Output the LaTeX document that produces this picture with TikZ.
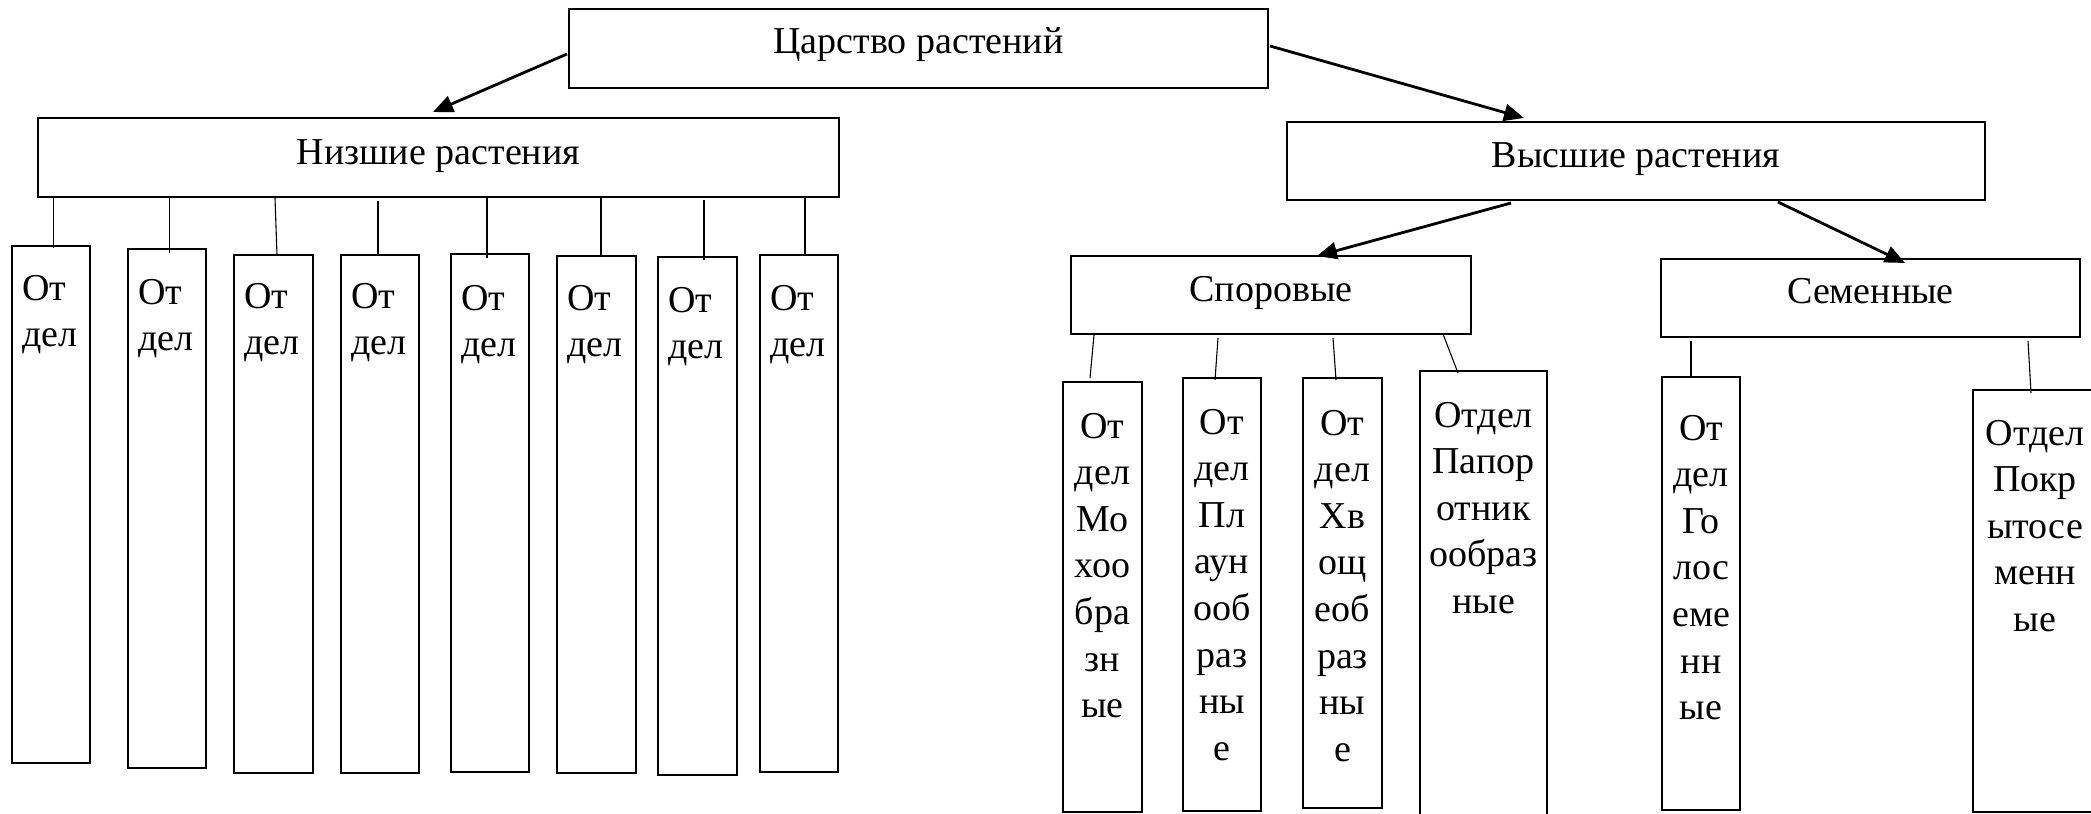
\documentclass[tikz,border=0pt]{standalone}
\usepackage{fontspec}
\setmainfont{Liberation Serif}
\usetikzlibrary{arrows.meta,calc,fit}
\newcommand{\mystackc}[1]{\begin{tabular}[t]{@{}c@{}}#1\end{tabular}}
\newcommand{\mystackl}[1]{\begin{tabular}[t]{@{}l@{}}#1\end{tabular}}
\begin{document}
\begin{tikzpicture}[x=0.5pt,y=-0.5pt,
  box/.style={draw=black,line width=0.7pt,inner sep=0pt,outer sep=0pt},
  lbl/.style={inner sep=0pt,outer sep=0pt,font=\fontsize{19}{23.3}\selectfont},
  arr/.style={line width=1.4pt,-{Triangle[length=10pt,width=8.5pt]}},
  conn/.style={line width=0.55pt}]
\fill[white] (0,0) rectangle (2091,813);
\useasboundingbox (0,0) rectangle (2091,813);

% header boxes
\node[box,fit={(569,9)(1268,88)}] (king) {};
\node[lbl,anchor=base] (tking) at (918.5,54) {Царство растений};
\node[box,fit={(38,118)(839,197)}] (low) {};
\node[lbl,anchor=base] (tlow) at (438.5,164) {Низшие растения};
\node[box,fit={(1287,122)(1985,200)}] (high) {};
\node[lbl,anchor=base] (thigh) at (1636,167) {Высшие растения};
\node[box,fit={(1071,256)(1471,334)}] (spor) {};
\node[lbl,anchor=base] (tspor) at (1271,301) {Споровые};
\node[box,fit={(1661,259)(2080,337)}] (sem) {};
\node[lbl,anchor=base] (tsem) at (1870.5,303) {Семенные};

% arrows
\draw[arr] ($(king.north west)+(-2,45)$) -- ($(low.north west)+(395,-6)$);
\draw[arr] ($(king.north east)+(2,37)$) -- ($(high.north west)+(237,-4)$);
\draw[arr] ($(high.south west)+(224,3)$) -- ($(spor.north west)+(246,0)$);
\draw[arr] ($(high.south west)+(491,2)$) -- ($(sem.north west)+(244,4)$);

% lower plants: eight boxes
\foreach \i/\xa/\ya/\xb/\yb/\tb/\pa/\pb/\qa/\qb in {
  1/12/246/90/763/300/15.6/1/41.6/2,
  2/128/249/206/768/304/131.5/1/41.5/4,
  3/234/255/313/773/308/237/1/43/0,
  4/341/255/419/773/308/340/4/37/0,
  5/451/254/529/772/310/449/0/36/4,
  6/557/256/636/773/310/563/1/44/0,
  7/658/257/737/775/312/666/3/46/3,
  8/760/255/838/772/310/767/1/45/0}{
  \node[box,fit={(\xa,\ya)(\xb,\yb)}] (b\i) {};
  \node[lbl,anchor=base west] (tb\i) at (\xa+10,\tb) {\mystackl{От\\дел}};
  \draw[conn] ($(low.south west)+(\pa,\pb)$) -- ($(b\i.north west)+(\qa,\qb)$);
}

% higher plants: spore plants
\node[box,fit={(1063,382)(1142,812)}] (bA) {};
\node[lbl,anchor=base] (tA) at (1102.5,438) {\mystackc{От\\дел\\Мо\\хоо\\бра\\зн\\ые}};
\node[box,fit={(1183,378)(1261,811)}] (bB) {};
\node[lbl,anchor=base] (tB) at (1222,434) {\mystackc{От\\дел\\Пл\\аун\\ооб\\раз\\ны\\е}};
\node[box,fit={(1303,378)(1382,808)}] (bC) {};
\node[lbl,anchor=base] (tC) at (1342.5,435) {\mystackc{От\\дел\\Хв\\ощ\\еоб\\раз\\ны\\е}};
\node[box,fit={(1420,371)(1547,830)}] (bD) {};
\node[lbl,anchor=base] (tD) at (1483.5,427) {\mystackc{Отдел\\Папор\\отник\\ообраз\\ные}};

\draw[conn] ($(spor.south west)+(23,1)$) -- ($(bA.north west)+(27,-4)$);
\draw[conn] ($(spor.south west)+(147,4)$) -- ($(bB.north west)+(32,2)$);
\draw[conn] ($(spor.south west)+(262,4)$) -- ($(bC.north west)+(33,2)$);
\draw[conn] ($(spor.south west)+(372,0)$) -- ($(bD.north west)+(38,2)$);

% seed plants
\node[box,fit={(1662,377)(1740,810)}] (bE) {};
\node[lbl,anchor=base] (tE) at (1701,440) {\mystackc{От\\дел\\Го\\лос\\еме\\нн\\ые}};
\node[box,fit={(1973,390)(2097,812)}] (bF) {};
\node[lbl,anchor=base] (tF) at (2035,445) {\mystackc{Отдел\\Покр\\ытосе\\менн\\ые}};

\draw[conn] ($(sem.south west)+(30,4)$) -- ($(bE.north west)+(29,1)$);
\draw[conn] ($(sem.south west)+(367,4)$) -- ($(bF.north west)+(58,3)$);
\end{tikzpicture}
\end{document}
